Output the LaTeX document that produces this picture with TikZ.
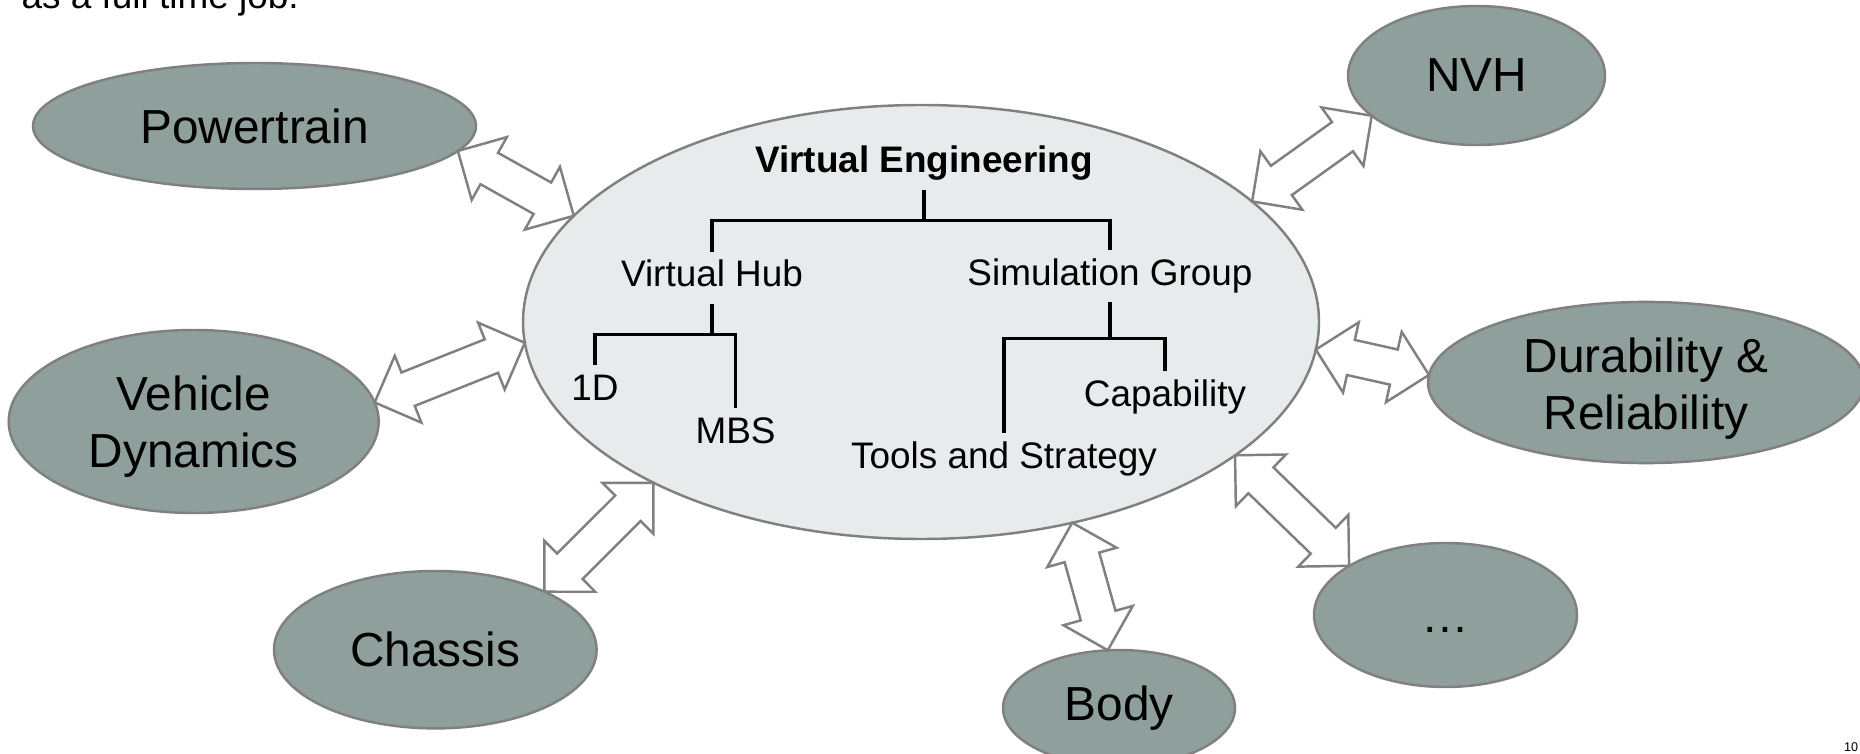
\documentclass[tikz,border=0pt]{standalone}
\usepackage{fontspec}
\setmainfont{Liberation Sans}
\usetikzlibrary{calc,shapes.geometric}
\definecolor{areafill}{RGB}{142,159,156}
\definecolor{hubfill}{RGB}{232,235,236}
\definecolor{rimgray}{RGB}{128,128,128}

\begin{document}
\begin{tikzpicture}[
  area/.style={ellipse, draw=rimgray, line width=0.7pt, fill=areafill, inner sep=0pt, outer sep=0pt,
    align=center, font=\fontsize{13.6}{16.2}\selectfont},
  unit/.style={anchor=base, inner sep=2.3pt, text height=7.6pt, text depth=2.3pt,
    font=\fontsize{10.5}{12.2}\selectfont},
  tree/.style={line width=0.9pt},
  link/.style={draw=rimgray, line width=0.7pt, fill=white,
    to path={let \p1=(\tikztostart), \p2=(\tikztotarget),
      \n1={atan2(\y2-\y1,\x2-\x1)}, \n2={veclen(\x2-\x1,\y2-\y1)-0.72cm} in
      -- ++(\n1+45:0.509cm) -- ++(\n1-90:0.18cm) -- ++(\n1:\n2)
      -- ++(\n1+90:0.18cm) -- ++(\n1-45:0.509cm) -- ++(\n1-135:0.509cm)
      -- ++(\n1+90:0.18cm) -- ++(\n1+180:\n2) -- ++(\n1-90:0.18cm) -- cycle}},
]
\useasboundingbox (0,0) rectangle (18.6,-7.54);
\clip (0,0) rectangle (18.6,-7.54);
\fill[white] (0,0) rectangle (18.6,-7.54);

\node[anchor=base west, inner sep=0pt, font=\fontsize{10.5}{12.6}\selectfont] (intro) at (0.21,-0.09) {as a full time job.};
\node[inner sep=0pt, font=\fontsize{3.6}{4.2}\selectfont] (pgno) at (18.51,-7.47) {10};

\node[area, minimum width=4.43cm, minimum height=1.26cm] (pt) at (2.545,-1.26) {Powertrain};
\node[area, minimum width=3.70cm, minimum height=1.83cm] (vd) at (1.937,-4.215) {\rule{0pt}{13pt}Vehicle\\Dynamics};
\node[area, minimum width=3.226cm, minimum height=1.574cm] (ch) at (4.353,-6.497) {Chassis};
\node[area, minimum width=2.32cm, minimum height=1.16cm] (bd) at (11.19,-7.08) {Body};
\node[area, minimum width=2.63cm, minimum height=1.44cm] (etc) at (14.455,-6.15) {\rule[-4.9pt]{0pt}{19.6pt}…};
\node[area, minimum width=4.36cm, minimum height=1.58cm] (dr) at (16.46,-3.825) {\rule{0pt}{13.4pt}Durability \&\\Reliability};
\node[area, minimum width=2.57cm, minimum height=1.39cm] (nvh) at (14.765,-0.755) {NVH};
\node[ellipse, draw=rimgray, line width=0.7pt, fill=hubfill, inner sep=0pt, outer sep=0pt,
  minimum width=7.96cm, minimum height=4.34cm] (ve) at (9.21,-3.22) {};

\node[unit] (veng) at (9.24,-1.73) {\bfseries Virtual Engineering};
\node[unit] (vhub) at (7.12,-2.87) {Virtual Hub};
\node[unit] (simg) at (11.10,-2.85) {Simulation Group};
\node[unit] (d1) at (5.95,-4.00) {1D};
\node[unit] (mbs) at (7.355,-4.43) {MBS};
\node[unit] (capab) at (11.65,-4.06) {Capability};
\node[unit] (tools) at (10.04,-4.68) {Tools and Strategy};

\draw[tree] (veng.south) -- ++(0,-0.31) coordinate (vej) -| (vhub.north);
\draw[tree] (vej) -| (simg.north);
\draw[tree] (vhub.south) -- ++(0,-0.31) coordinate (vhj) -| (d1.north);
\draw[tree] (vhj) -| (mbs.north);
\draw[tree] (simg.south) -- ++(0,-0.37) coordinate (sgj) -| (tools.north);
\draw[tree] (sgj) -| (capab.north);

\draw[link] (pt.-7.15) to (ve.163.7);
\draw[link] (nvh.201.9) to (ve.20.4);
\draw[link] (vd.6.6) to (ve.183.3);
\draw[link] (ch.28.9) to (ve.211.4);
\draw[link] (ve.-53.7) to (bd.101.8);
\draw[link] (ve.-23.5) to (etc.153);
\draw[link] (ve.-4.1) to (dr.178.6);
\end{tikzpicture}
\end{document}
